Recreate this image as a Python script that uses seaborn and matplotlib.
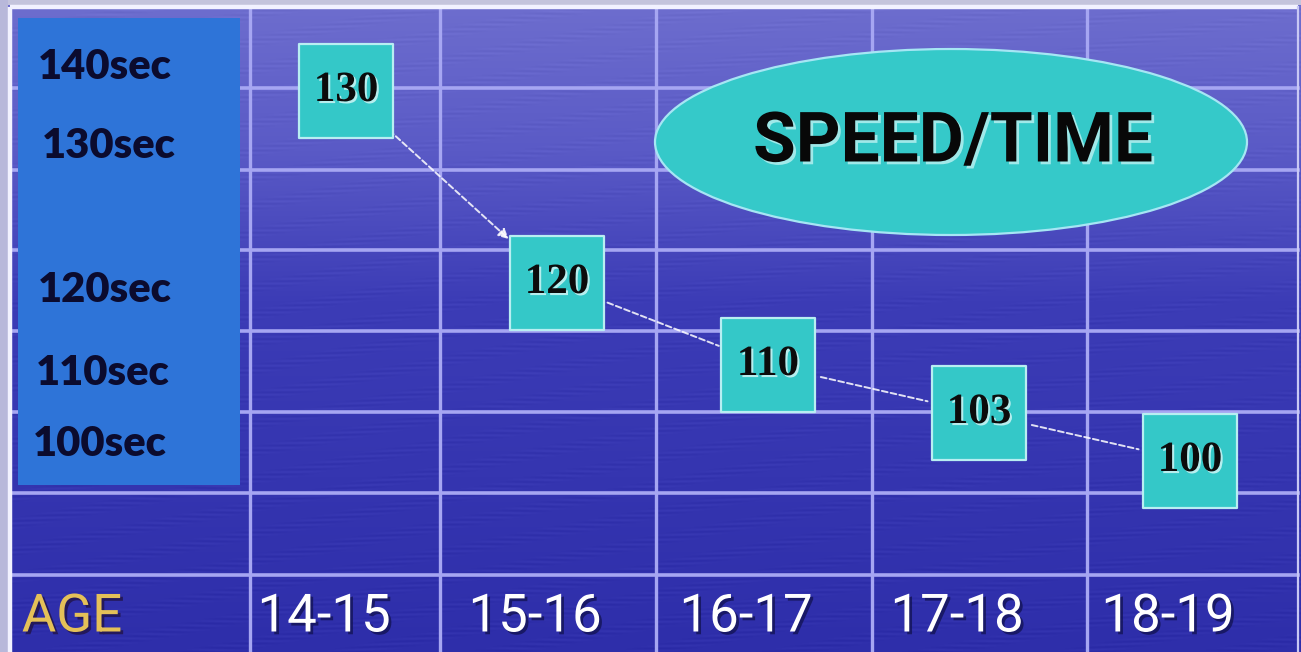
import numpy as np
import pandas as pd
import matplotlib
matplotlib.use("Agg")
import matplotlib.pyplot as plt
import matplotlib.patheffects as pe
import matplotlib.transforms as mtransforms
from matplotlib.patches import Rectangle, Ellipse
import seaborn as sns

# ---- data -------------------------------------------------------------
ages = ["14-15", "15-16", "16-17", "17-18", "18-19"]
seconds = [130, 120, 110, 103, 100]
time_labels = ["140sec", "130sec", "120sec", "110sec", "100sec"]
title = "SPEED/TIME"
age_heading = "AGE"

df = pd.DataFrame({"pos": np.arange(len(ages)), "age": ages, "seconds": seconds})

# ---- figure / canvas --------------------------------------------------
W, H = 1301, 652
fig = plt.figure(figsize=(W / 100, H / 100), dpi=100)

bg = fig.add_axes([0, 0, 1, 1])
bg.set_xlim(0, W)
bg.set_ylim(H, 0)
bg.axis("off")

# sea-like backdrop: vertical gradient with faint horizontal streaks
ys = np.arange(H)[:, None].astype(float)
xs = np.arange(W)[None, :].astype(float)
stops_y = [0, 150, 300, 652]
stops_c = np.array([[110, 110, 206], [90, 90, 198], [60, 60, 182], [46, 46, 170]], float)
base = np.stack([np.interp(ys[:, 0], stops_y, stops_c[:, k]) for k in range(3)], axis=1)
img = np.repeat(base[:, None, :], W, axis=1)
streak = (np.sin(ys * 1.3 + 2.0 * np.sin(xs * 0.017)) *
          np.clip(np.sin(xs * 0.043 + ys * 0.23), 0, 1))
img += 4.5 * streak[:, :, None]
img = np.clip(img, 0, 255) / 255.0
bg.imshow(img, extent=(0, W, H, 0), aspect="auto", zorder=0, interpolation="bilinear")

# outer margin and frame
bg.add_patch(Rectangle((0, 0), W, 5, color="#c4c4dc", zorder=1, lw=0))
bg.add_patch(Rectangle((0, 0), 8, H, color="#b8b8da", zorder=1, lw=0))
bg.plot([10, 1298], [7, 7], color="#f2f2ff", lw=3.2, zorder=3, solid_capstyle="butt")
bg.plot([10, 10], [7, H], color="#f2f2ff", lw=3.2, zorder=3, solid_capstyle="butt")
bg.plot([1298, 1298], [7, H], color="#c8c8f4", lw=1.6, zorder=3)

# table grid
grid_color = "#a6a6f2"
for gx in [250, 440, 656, 872, 1087]:
    bg.plot([gx, gx], [7, H], color=grid_color, lw=2.4, zorder=2)
for gy in [88, 170, 250, 331, 412, 493, 575]:
    bg.plot([10, 1298], [gy, gy], color=grid_color, lw=2.6, zorder=2)

# left header panel with time labels
bg.add_patch(Rectangle((18, 18), 222, 467, color="#2e74d8", zorder=4, lw=0))
label_x = [38, 42, 38, 36, 33]
label_y = [67, 146, 290, 373, 444]
for lx, ly, txt in zip(label_x, label_y, time_labels):
    bg.text(lx, ly, txt, ha="left", va="center", family="Lato", weight="heavy",
            fontsize=30, color="#0b0b2e", zorder=5)

# title ellipse
bg.add_patch(Ellipse((951, 142), 592, 186, facecolor="#35c9c9",
                     edgecolor="#a6e6f4", lw=1.6, zorder=4))
bg.text(953, 143, title, ha="center", va="center", family="Roboto", weight="bold",
        fontsize=50, color="#080808", zorder=5,
        path_effects=[pe.withSimplePatchShadow(offset=(2, -2), shadow_rgbFace="#e8ffff", alpha=0.6)])

# ---- data axes ----------------------------------------------------------
ax = fig.add_axes([0, 0, 1, 1])
ax.patch.set_alpha(0)

sns.scatterplot(data=df, x="pos", y="seconds", marker="s", s=4600,
                color="#34c8c8", edgecolor="#b8eef2", linewidth=1.6,
                legend=False, ax=ax, zorder=5)

# non-linear vertical scale of the slide
scale_v = [0, 100, 103, 110, 120, 130, 300]
scale_t = [-1409, 191, 239, 287, 369, 561, 3825]


def fwd(v):
    return np.interp(np.asarray(v, float), scale_v, scale_t)


def inv(t):
    return np.interp(np.asarray(t, float), scale_t, scale_v)


ax.set_yscale("function", functions=(fwd, inv))
ax.set_ylim(float(inv(0)), float(inv(H)))
ax.set_xlim(-1.640, 4.526)
ax.axis("off")

# connectors between consecutive values
for i in range(len(seconds) - 1):
    first = i == 0
    ax.annotate("", xy=(i + 1, seconds[i + 1]), xytext=(i, seconds[i]),
                arrowprops=dict(arrowstyle="-|>" if first else "-", color="white",
                                lw=1.4, ls=(0, (3, 1.6)), alpha=0.85,
                                shrinkA=42 if first else 39,
                                shrinkB=47 if first else 38,
                                mutation_scale=15),
                zorder=4)

# value labels on the squares
for i, v in enumerate(seconds):
    ax.text(i, v, str(v), ha="center", va="center", family="Liberation Serif",
            weight="bold", fontsize=31, color="#0c0c0c", zorder=6,
            path_effects=[pe.withSimplePatchShadow(offset=(1.5, -1.5),
                                                   shadow_rgbFace="#f0ffff", alpha=0.7)])

# age labels along the bottom row
age_tr = mtransforms.offset_copy(
    mtransforms.blended_transform_factory(ax.transData, bg.transData),
    fig=fig, x=-22, y=0, units="dots")
for i, a in enumerate(ages):
    ax.text(i, 617, a, transform=age_tr, ha="center", va="center", family="Roboto",
            fontsize=38, color="white", zorder=6,
            path_effects=[pe.withSimplePatchShadow(offset=(2, -2), shadow_rgbFace="#10104a", alpha=0.7)])

bg.text(72, 617, age_heading, ha="center", va="center", family="Roboto",
        fontsize=38, color="#e4c058", zorder=6,
        path_effects=[pe.withSimplePatchShadow(offset=(2, -2), shadow_rgbFace="#20103a", alpha=0.7)])

fig.savefig("out.png", dpi=100)
